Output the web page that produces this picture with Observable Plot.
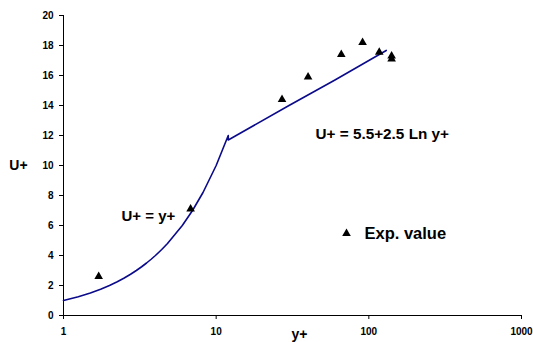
<!DOCTYPE html>
<html><head><meta charset="utf-8">
<script src="https://cdn.jsdelivr.net/npm/d3@7"></script>
<script src="https://cdn.jsdelivr.net/npm/@observablehq/plot@0.6"></script>
<style>
html,body{margin:0;padding:0;background:#fff;}
svg{font-family:"Liberation Sans",Arial,sans-serif;}
</style>
</head><body>
<div id="chart"></div>
<script>
// Model line: viscous sublayer (U+ = y+) then log law
const lineYPlus = [1, 1.25, 1.5, 1.75, 2, 2.25, 2.5, 2.75, 3, 3.25, 3.5, 3.75, 4, 4.4, 4.8, 6, 7, 8.2, 10, 12, 12, 30, 60, 130];
const lineUPlus = [1, 1.25, 1.5, 1.75, 2, 2.25, 2.5, 2.75, 3, 3.25, 3.5, 3.75, 4, 4.4, 4.8, 6, 7, 8.2, 10, 12, 11.7, 14.0, 15.7, 17.67];
// Experimental values
const expYPlus = [1.7, 6.8, 27, 40, 66, 91, 117, 141, 141];
const expUPlus = [2.6, 7.1, 14.4, 15.9, 17.4, 18.2, 17.55, 17.3, 17.1];
const xTicks = [1, 10, 100, 1000];
const yTicks = [0, 2, 4, 6, 8, 10, 12, 14, 16, 18, 20];

const lineData = lineYPlus.map((x, i) => ({x, y: lineUPlus[i]}));
const expData = expYPlus.map((x, i) => ({x, y: expUPlus[i]}));

const chart = Plot.plot({
  width: 533, height: 342,
  marginLeft: 63, marginRight: 12, marginTop: 15, marginBottom: 27,
  x: {type: "log", domain: [1, 1000]},
  y: {domain: [0, 20]},
  style: {fontFamily: "Liberation Sans, Arial, sans-serif", color: "#000", background: "#fff"},
  marks: [
    Plot.axisX({ticks: xTicks, tickFormat: d => String(d), tickSize: 4, tickPadding: 8, label: null, fontSize: 10, fontWeight: "bold"}),
    Plot.axisY({ticks: yTicks, tickFormat: d => String(d), tickSize: 4, tickPadding: 6, label: null, fontSize: 10, fontWeight: "bold"}),
    Plot.ruleY([0], {stroke: "#000", strokeWidth: 1}),
    Plot.ruleX([1], {stroke: "#000", strokeWidth: 1}),
    Plot.line(lineData, {x: "x", y: "y", stroke: "#0a0a8a", strokeWidth: 1.6}),
    Plot.dot(expData, {x: "x", y: "y", symbol: "triangle", r: 3.2, fill: "#000", stroke: null}),
    Plot.text(["U+ = y+"], {frameAnchor: "left", dx: 58, dy: 51, textAnchor: "start", fontSize: 15, fontWeight: "bold", fill: "#000"}),
    Plot.text(["U+ = 5.5+2.5 Ln y+"], {frameAnchor: "left", dx: 252, dy: -31, textAnchor: "start", fontSize: 15.3, fontWeight: "bold", fill: "#000"}),
    Plot.dot([0], {frameAnchor: "left", dx: 283, dy: 68, symbol: "triangle", r: 3.2, fill: "#000", stroke: null}),
    Plot.text(["Exp. value"], {frameAnchor: "left", dx: 301, dy: 68, textAnchor: "start", fontSize: 16.5, fontWeight: "bold", fill: "#000"}),
    Plot.text(["y+"], {frameAnchor: "bottom", dx: 7, dy: 23, fontSize: 14, fontWeight: "bold", fill: "#000"}),
    Plot.text(["U+"], {frameAnchor: "left", dx: -45, dy: 0, textAnchor: "middle", fontSize: 14, fontWeight: "bold", fill: "#000"})
  ]
});
document.getElementById("chart").appendChild(chart);
</script>
</body></html>
